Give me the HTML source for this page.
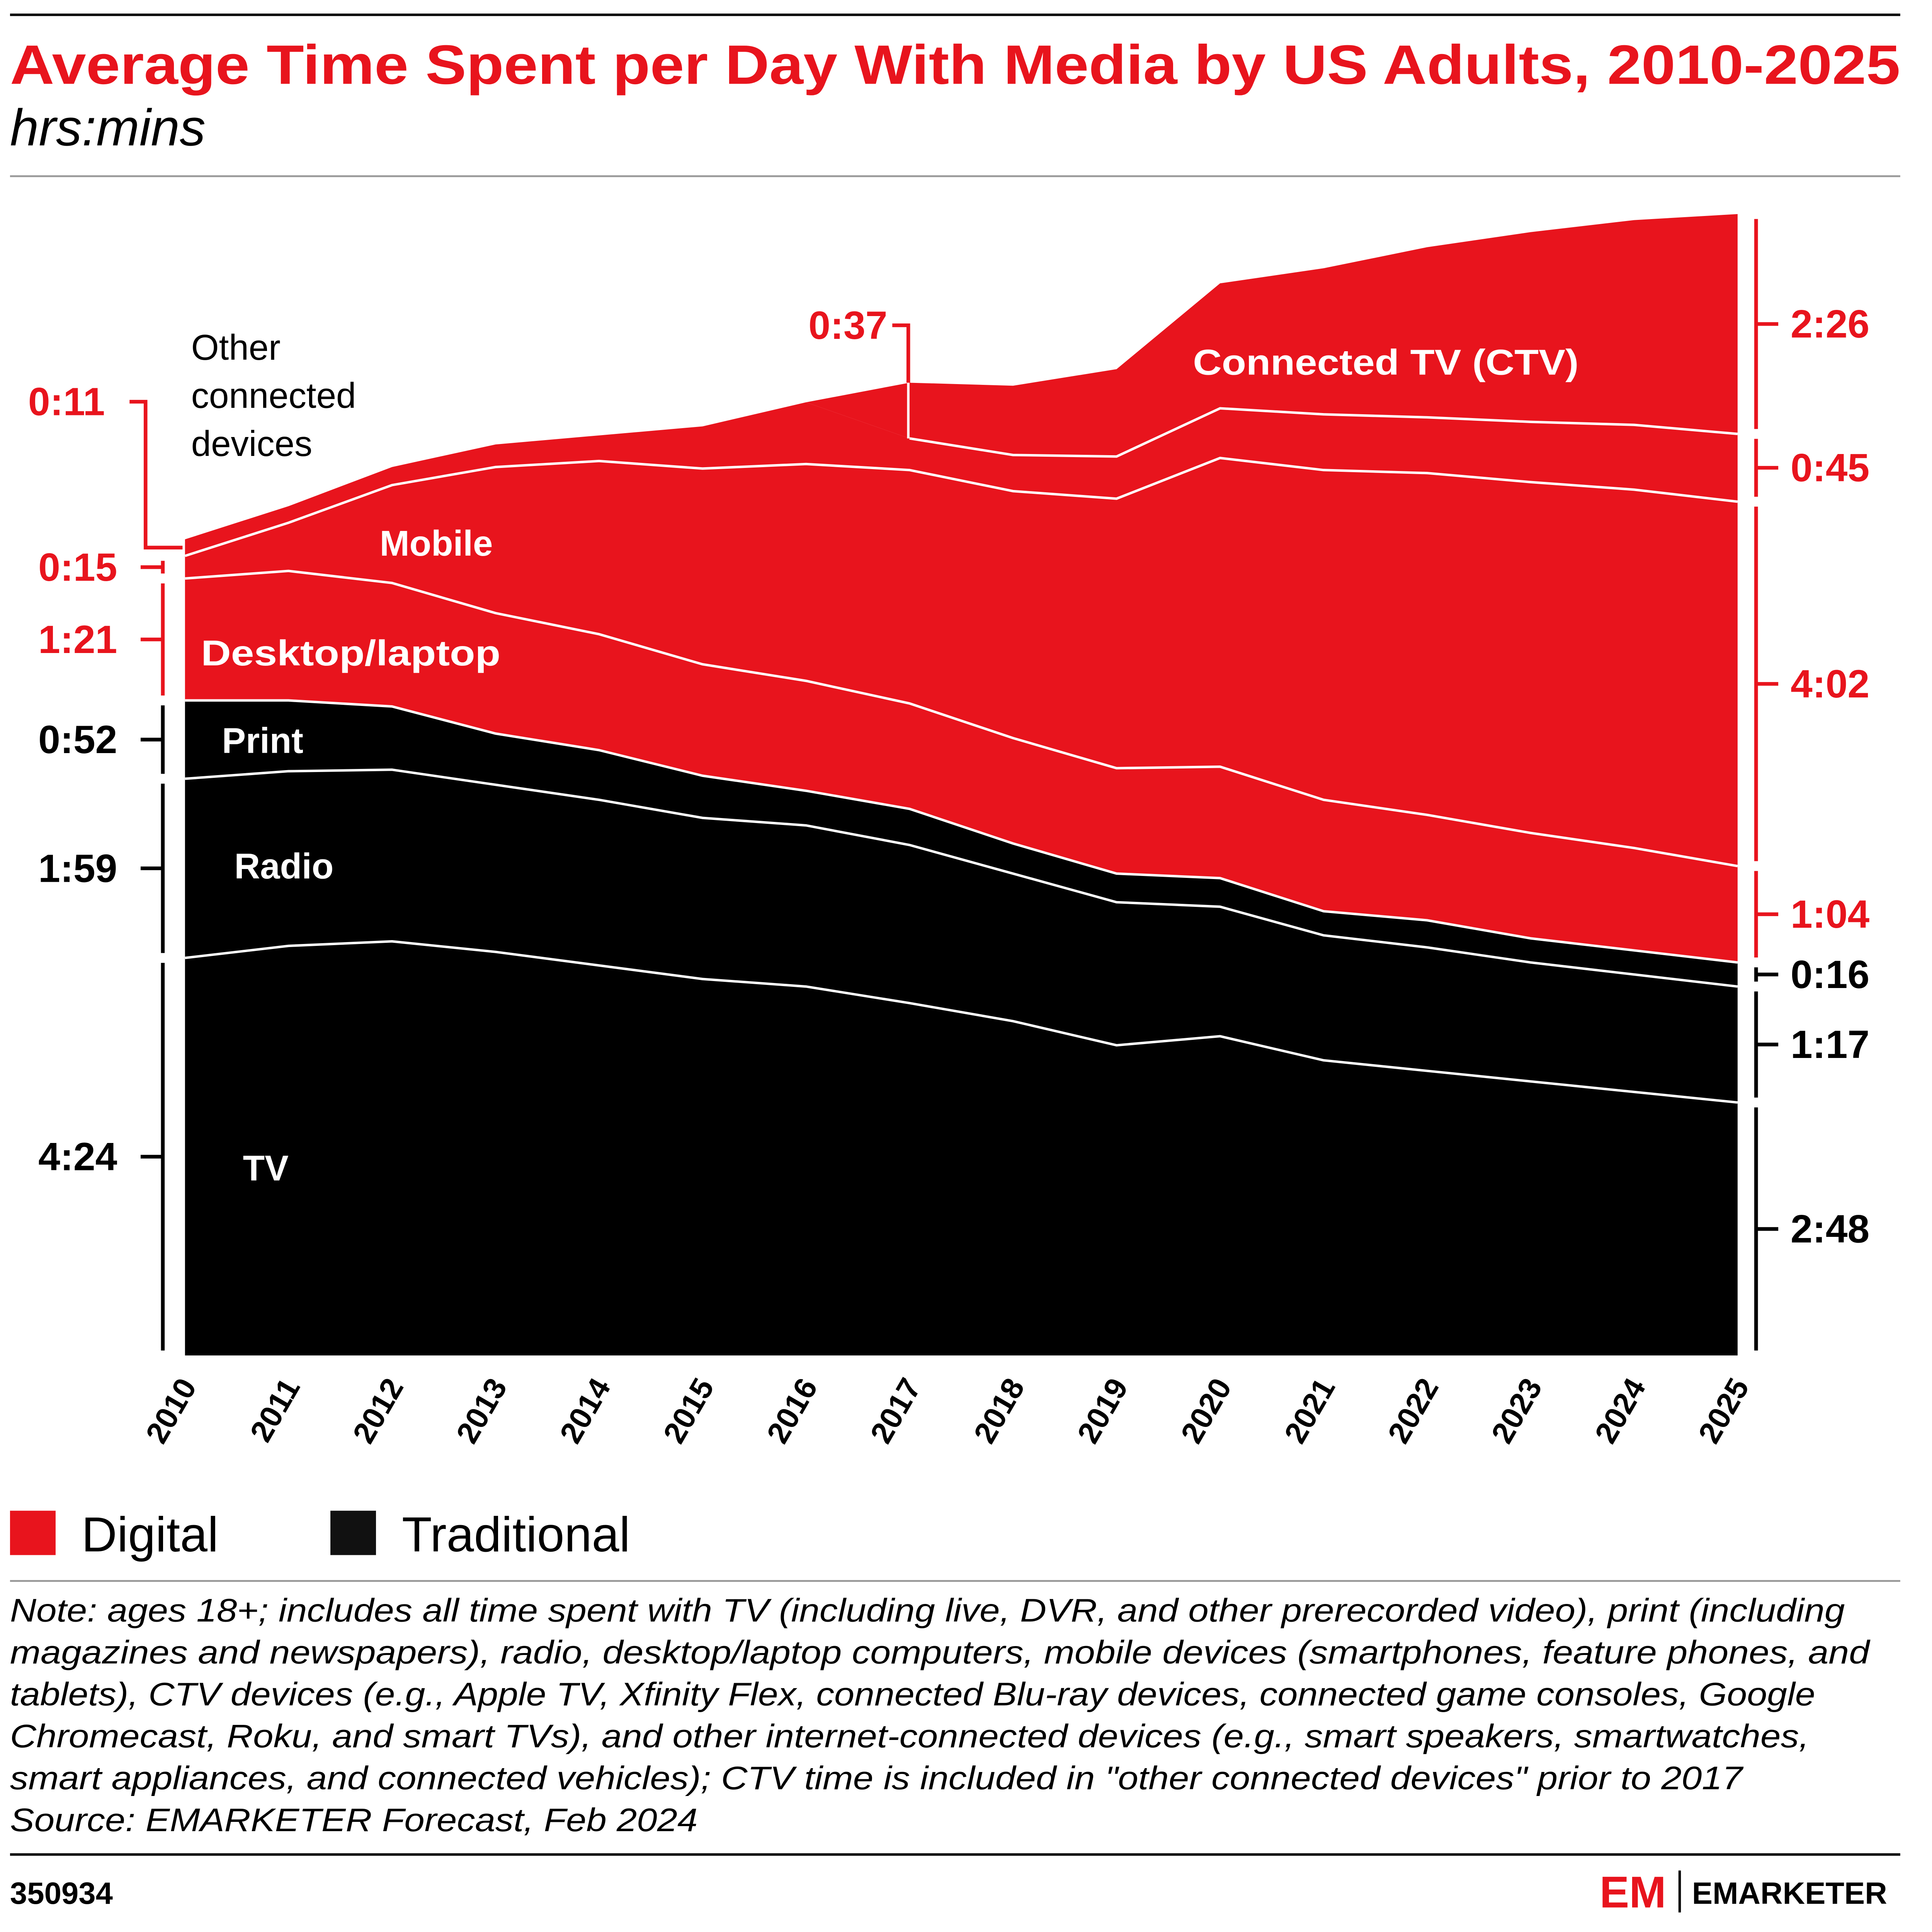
<!DOCTYPE html>
<html><head><meta charset="utf-8"><style>
html,body{margin:0;padding:0;background:#fff}
svg{display:block}
text{font-family:"Liberation Sans",sans-serif}
</style></head><body>
<svg id="s" width="5167" height="5214" viewBox="0 0 1620 1635" xmlns="http://www.w3.org/2000/svg">
<rect width="1620" height="1635" fill="#fff"/>
<line x1="8" y1="12" x2="1542" y2="12" stroke="#000" stroke-width="2"/>
<text x="8" y="68" font-size="45" font-weight="bold" fill="#e8141d" textLength="1534" lengthAdjust="spacingAndGlyphs">Average Time Spent per Day With Media by US Adults, 2010-2025</text>
<text x="8" y="118" font-size="42" font-style="italic" fill="#000">hrs:mins</text>
<line x1="8" y1="143" x2="1542" y2="143" stroke="#999" stroke-width="1.5"/>
<g id="plot"></g>
<g id="ann"></g>
<g id="xax"></g>
<g font-size="29">
<text x="155" y="292" fill="#000">Other</text>
<text x="155" y="331" fill="#000">connected</text>
<text x="155" y="370" fill="#000">devices</text>
<text x="308" y="451" fill="#fff" font-weight="bold">Mobile</text>
<text x="163" y="540" fill="#fff" font-weight="bold" textLength="243" lengthAdjust="spacingAndGlyphs">Desktop/laptop</text>
<text x="180" y="611" fill="#fff" font-weight="bold">Print</text>
<text x="190" y="713" fill="#fff" font-weight="bold">Radio</text>
<text x="197" y="958" fill="#fff" font-weight="bold">TV</text>
<text x="968" y="304" fill="#fff" font-weight="bold" textLength="313" lengthAdjust="spacingAndGlyphs">Connected TV (CTV)</text>
</g>
<g>
<rect x="8" y="1226" width="37" height="36" fill="#e8141d"/>
<text x="66" y="1259" font-size="40">Digital</text>
<rect x="268" y="1226" width="37" height="36" fill="#111"/>
<text x="326" y="1259" font-size="40">Traditional</text>
</g>
<line x1="8" y1="1283" x2="1542" y2="1283" stroke="#999" stroke-width="1.5"/>
<g font-size="26.5" font-style="italic">
<text x="8" y="1316" textLength="1489" lengthAdjust="spacingAndGlyphs">Note: ages 18+; includes all time spent with TV (including live, DVR, and other prerecorded video), print (including</text>
<text x="8" y="1350" textLength="1509" lengthAdjust="spacingAndGlyphs">magazines and newspapers), radio, desktop/laptop computers, mobile devices (smartphones, feature phones, and</text>
<text x="8" y="1384" textLength="1465" lengthAdjust="spacingAndGlyphs">tablets), CTV devices (e.g., Apple TV, Xfinity Flex, connected Blu-ray devices, connected game consoles, Google</text>
<text x="8" y="1418" textLength="1460" lengthAdjust="spacingAndGlyphs">Chromecast, Roku, and smart TVs), and other internet-connected devices (e.g., smart speakers, smartwatches,</text>
<text x="8" y="1452" textLength="1406" lengthAdjust="spacingAndGlyphs">smart appliances, and connected vehicles); CTV time is included in "other connected devices" prior to 2017</text>
<text x="8" y="1486" textLength="558" lengthAdjust="spacingAndGlyphs">Source: EMARKETER Forecast, Feb 2024</text>
</g>
<line x1="8" y1="1505" x2="1542" y2="1505" stroke="#000" stroke-width="2"/>
<text x="8" y="1545" font-size="25" font-weight="bold">350934</text>
<g>
<text x="1298" y="1548" font-size="36" font-weight="bold" fill="#e8141d">EM</text>
<line x1="1363" y1="1518" x2="1363" y2="1552" stroke="#000" stroke-width="2"/>
<text x="1373" y="1545" font-size="25" font-weight="bold">EMARKETER</text>
</g>
</svg>
<script>
const years=[2010,2011,2012,2013,2014,2015,2016,2017,2018,2019,2020,2021,2022,2023,2024,2025];
const tv=[264,272,275,268,259,250,245,234,222,206,212,196,189,182,175,168];
const radio=[119,116,114,111,110,107,107,105,98,95,86,83,82,79,78,77];
const print=[52,47,42,34,33,28,23,24,20,19,19,16,18,16,16,16];
const desktop=[81,86,82,80,77,74,73,70,70,70,74,74,70,70,68,64];
const mobile=[15,32,65,97,115,130,144,155,164,179,205,219,227,233,238,242];
const other=[11,11,12,15,17,28,41,21,24,28,33,37,37,40,43,45];
const ctv=[0,0,0,0,0,0,0,37,46,58,83,97,113,126,136,146];
const leftLabels=['4:24','1:59','0:52','1:21','0:15','0:11'];
const rightLabels=['2:48','1:17','0:16','1:04','4:02','0:45','2:26'];
const NS='http://www.w3.org/2000/svg';
const X0=150,X1=1410,Y0=1100,K=1.222;
const xs=i=>X0+(X1-X0)*(years[i]-years[0])/(years[years.length-1]-years[0]);
const ys=v=>Y0-v*K;
const series=[tv,radio,print,desktop,mobile,other,ctv];
const names=['tv','radio','print','desktop','mobile','other','ctv'];
const colors=['#000','#000','#000','#e8141d','#e8141d','#e8141d','#e8141d'];
function mk(t,a,p){const e=document.createElementNS(NS,t);for(const k in a)e.setAttribute(k,a[k]);p.appendChild(e);return e;}
const plot=document.getElementById('plot'),ann=document.getElementById('ann'),xax=document.getElementById('xax');
const cum=[years.map(()=>0)];
series.forEach((s,j)=>cum.push(s.map((v,i)=>cum[j][i]+v)));
series.forEach((s,j)=>{
 const top=cum[j+1].map((v,i)=>xs(i)+','+ys(v));
 const bot=cum[j].map((v,i)=>xs(i)+','+ys(v)).reverse();
 const p=mk('polygon',{points:top.concat(bot).join(' '),fill:colors[j]},plot);
 
 
});
const ctvStart=ctv.findIndex(v=>v>0);
for(let j=1;j<series.length;j++){
 const pts=cum[j].map((v,i)=>[i,xs(i)+','+ys(v)]).filter(p=>j<6||p[0]>=ctvStart).map(p=>p[1]).join(' ');
 const l=mk('polyline',{points:pts,fill:'none',stroke:'#fff','stroke-width':2},plot);
 
 
}
function bracket(x,j,label,col,side){
 const i=side==='L'?0:years.length-1;
 const b=ys(cum[j][i]),t=ys(cum[j+1][i]);
 const g=mk('g',{},ann);
 
 
 mk('line',{x1:x,y1:b-4,x2:x,y2:t+4,stroke:col,'stroke-width':3},g);
 const m=(b+t)/2;
 const tx=side==='L'?x-18:x+18;
 mk('line',{x1:x,y1:m,x2:tx,y2:m,stroke:col,'stroke-width':3},g);
 const tt=mk('text',{x:side==='L'?95:1453,y:m+11,'font-size':32,'font-weight':'bold',fill:col,'text-anchor':side==='L'?'end':'start'},g);
 tt.textContent=label;
}
const XL=132,XR=1425;
for(let j=0;j<5;j++) bracket(XL,j,leftLabels[j],colors[j],'L');
for(let j=0;j<7;j++) bracket(XR,j,rightLabels[j],colors[j],'R');
{const t=ys(cum[6][0]),b=ys(cum[5][0]);const m=(t+b)/2;
 const g=mk('g',{},ann);
 
 
 mk('polyline',{points:`105,326 118,326 118,${m} 148,${m}`,fill:'none',stroke:'#e8141d','stroke-width':3},g);
 const tt=mk('text',{x:85,y:337,'font-size':32,'font-weight':'bold',fill:'#e8141d','text-anchor':'end'},g);tt.textContent=leftLabels[5];}
{const i=years.indexOf(2017);const t=ys(cum[7][i]),b=ys(cum[6][i]);
 const g=mk('g',{},ann);
 
 
 mk('polyline',{points:`724,264 737,264 737,${t}`,fill:'none',stroke:'#e8141d','stroke-width':3},g);
 mk('line',{x1:737,y1:t,x2:737,y2:b,stroke:'#fff','stroke-width':2},g);
 const tt=mk('text',{x:720,y:275,'font-size':32,'font-weight':'bold',fill:'#e8141d','text-anchor':'end'},g);tt.textContent='0:'+ctv[i];}
years.forEach((y,i)=>{
 const t=mk('text',{x:0,y:0,'font-size':25,'font-weight':'bold','text-anchor':'end',transform:`translate(${xs(i)+10},${1125}) rotate(-60)`},xax);
 t.textContent=y;
 
 
});
</script>
</body></html>
